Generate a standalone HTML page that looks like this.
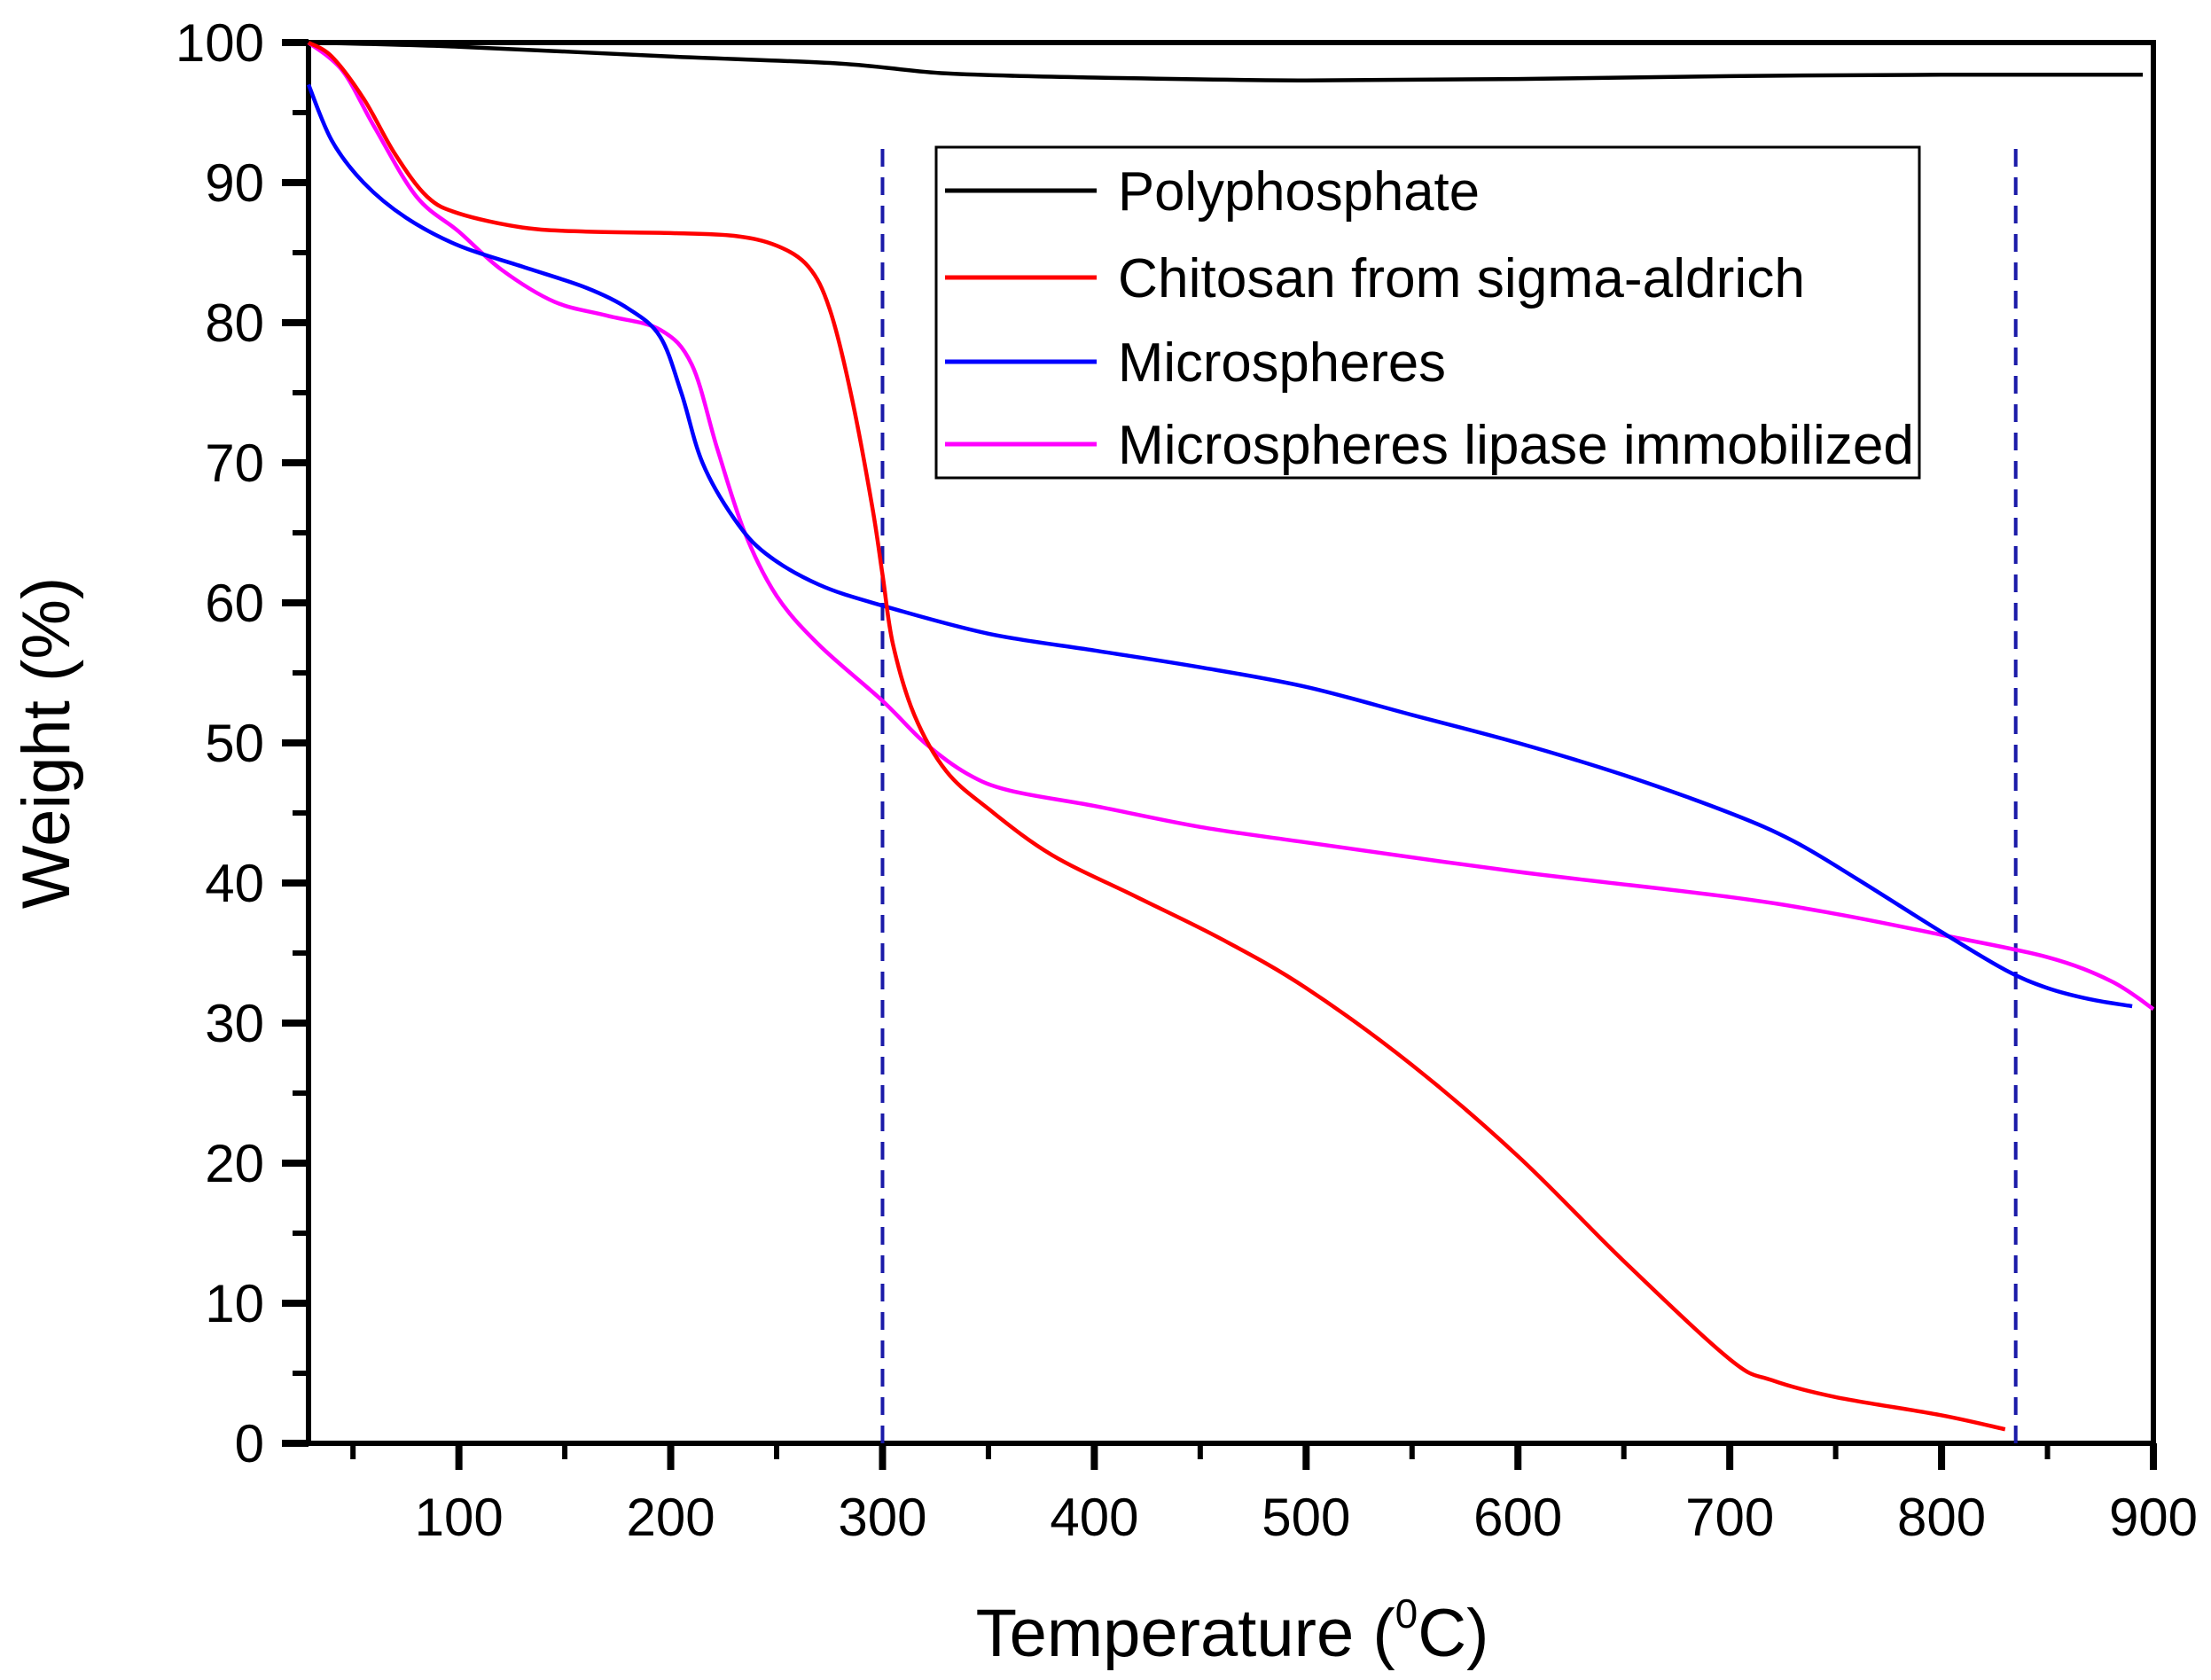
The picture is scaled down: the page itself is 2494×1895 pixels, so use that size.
<!DOCTYPE html>
<html><head><meta charset="utf-8"><style>
html,body{margin:0;padding:0;background:#fff}
svg{display:block;font-family:"Liberation Sans",Arial,sans-serif}
</style></head><body>
<svg id="chart" width="2494" height="1895" viewBox="0 0 2494 1895" xmlns="http://www.w3.org/2000/svg">
<rect width="2494" height="1895" fill="#fff"/>
<g id="axes"></g>
<g id="series"></g>
<g id="legend"></g>
<text transform="translate(78,838) rotate(-90)" text-anchor="middle" font-size="76" fill="#000">Weight (%)</text>
<text x="1390" y="1868" text-anchor="middle" font-size="76" fill="#000">Temperature (<tspan font-size="46" dy="-32">0</tspan><tspan dy="32">C)</tspan></text>
</svg>
<script>
const xTicks = [100,200,300,400,500,600,700,800,900];
const yTicks = [0,10,20,30,40,50,60,70,80,90,100];
const polyT = [29,100,200,280,330,400,500,600,700,800,895];
const polyW = [100,99.7,99,98.5,97.8,97.5,97.3,97.4,97.6,97.7,97.7];
const chitT = [29,40,55,70,85,100,130,160,200,230,250,265,275,285,295,300,305,315,330,350,380,420,460,500,550,600,650,700,720,750,800,830];
const chitW = [100,99,96,92,89,87.8,86.8,86.5,86.4,86.2,85.5,84,81,75,67,62,57,52,48,45.3,42,39,36,32.5,27,20.5,13,6,4.5,3.3,2,1];
const microT = [29,40,55,75,100,130,160,180,195,205,215,230,245,270,300,350,400,450,500,550,600,650,700,730,760,800,830,850,870,890];
const microW = [97,93,90,87.5,85.5,84,82.5,81,79,75,70,66,63.5,61.3,59.8,57.8,56.6,55.4,54,52,50,47.7,45,43,40.3,36.5,33.8,32.5,31.7,31.2];
const lipT = [29,45,60,80,100,120,145,170,195,210,222,235,250,270,300,320,340,360,400,450,500,600,700,750,800,850,880,900];
const lipW = [100,98,94,89,86.5,83.8,81.5,80.5,79.5,77,71,65,60.5,57,53,50,47.8,46.6,45.5,44,42.9,40.8,39,37.8,36.3,34.7,33,31];
const markerT = [300,835];

const NS="http://www.w3.org/2000/svg";
const L=348,R=2429,T=48,B=1628,XMIN=29,XMAX=900;
const X=t=>L+(t-XMIN)*(R-L)/(XMAX-XMIN);
const Y=w=>B-w*(B-T)/100;
function mk(tag,attrs,parent){const e=document.createElementNS(NS,tag);for(const k in attrs)e.setAttribute(k,attrs[k]);parent.appendChild(e);return e;}
const axes=document.getElementById('axes'),series=document.getElementById('series'),legend=document.getElementById('legend');

markerT.forEach(t=>{
  const l=mk('line',{x1:X(t),x2:X(t),y1:168,y2:B,stroke:'#1a1aa8','stroke-width':4,'stroke-dasharray':'20,12'},series);
  
  
});

function path(ts,ws,color,name){
  const p=ts.map((t,i)=>[X(t),Y(ws[i])]);
  let d='M'+p[0][0].toFixed(1)+','+p[0][1].toFixed(1);
  for(let i=0;i<p.length-1;i++){
    const p0=p[Math.max(0,i-1)],p1=p[i],p2=p[i+1],p3=p[Math.min(p.length-1,i+2)];
    const c1=[p1[0]+(p2[0]-p0[0])/6,p1[1]+(p2[1]-p0[1])/6];
    const c2=[p2[0]-(p3[0]-p1[0])/6,p2[1]-(p3[1]-p1[1])/6];
    d+='C'+c1[0].toFixed(1)+','+c1[1].toFixed(1)+' '+c2[0].toFixed(1)+','+c2[1].toFixed(1)+' '+p2[0].toFixed(1)+','+p2[1].toFixed(1);
  }
  const el=mk('path',{d:d,fill:'none',stroke:color,'stroke-width':4.5,'stroke-linejoin':'round'},series);
  
  
}
path(polyT,polyW,'#000','polyphosphate-line');
path(lipT,lipW,'#ff00ff','microspheres-lipase-line');
path(microT,microW,'#0000ff','microspheres-line');
path(chitT,chitW,'#ff0000','chitosan-line');

const fr=mk('rect',{x:L,y:T,width:R-L,height:B-T,fill:'none',stroke:'#000','stroke-width':6},axes);



for(let t=50;t<=900;t+=50){
  const major=t%100===0;
  mk('line',{x1:X(t),x2:X(t),y1:B,y2:B+(major?30:18),stroke:'#000','stroke-width':major?8:6},axes);
}
xTicks.forEach(t=>{
  const tx=mk('text',{x:X(t),y:1732,'text-anchor':'middle','font-size':60,fill:'#000'},axes);
  tx.textContent=t;
  
  
});
for(let w=0;w<=100;w+=5){
  const major=w%10===0;
  mk('line',{x1:L,x2:L-(major?30:18),y1:Y(w),y2:Y(w),stroke:'#000','stroke-width':major?8:6},axes);
}
yTicks.forEach(w=>{
  const tx=mk('text',{x:298,y:Y(w)+21,'text-anchor':'end','font-size':60,fill:'#000'},axes);
  tx.textContent=w;
  
  
});

const lb=mk('rect',{x:1056,y:166,width:1109,height:373,fill:'#fff',stroke:'#000','stroke-width':3},legend);


const legNames=['Polyphosphate','Chitosan from sigma-aldrich','Microspheres','Microspheres lipase immobilized'];
const legColors=['#000','#ff0000','#0000ff','#ff00ff'];
const legY=[215,313,408,501];
const legW=[408,775,370,898];
legNames.forEach((n,i)=>{
  const g=mk('g',{},legend);
  
  
  mk('line',{x1:1066,x2:1237,y1:legY[i],y2:legY[i],stroke:legColors[i],'stroke-width':5},g);
  const tx=mk('text',{x:1261,y:legY[i]+22,'font-size':62,fill:'#000',textLength:legW[i],lengthAdjust:'spacingAndGlyphs'},g);
  tx.textContent=n;
});
</script>
</body></html>
